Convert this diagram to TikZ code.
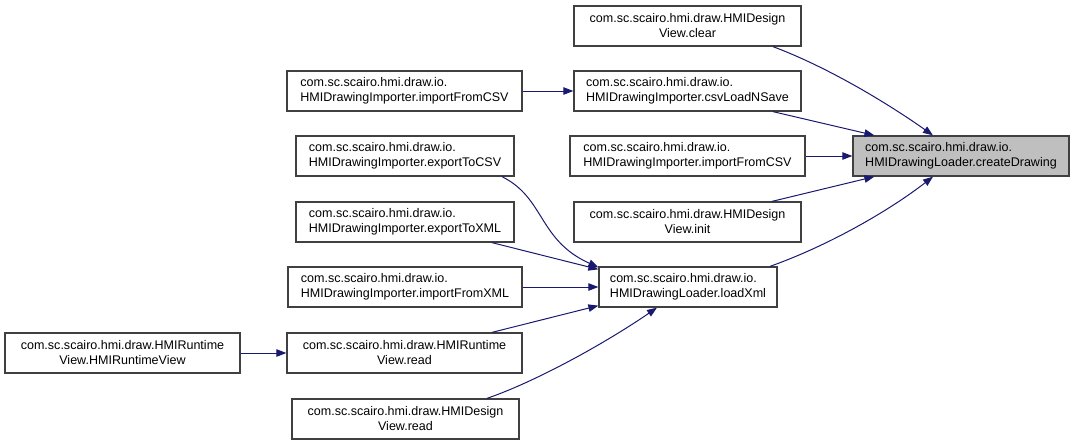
\documentclass[tikz,border=0pt]{standalone}
\usepackage{fontspec}
\setmainfont{Liberation Sans}
\usetikzlibrary{arrows.meta,calc}
\definecolor{edgeblue}{HTML}{191970}
\definecolor{boxline}{HTML}{404040}
\definecolor{selfill}{HTML}{BFBFBF}
\tikzset{
  fn/.style={draw=boxline, line width=0.95pt, fill=white, rectangle, inner sep=0pt,
    minimum height=30pt, font=\fontsize{9.4}{11.25}\selectfont, text=black},
  sel/.style={fn, fill=selfill},
  edge/.style={draw=edgeblue, line width=0.75pt, -{Triangle[length=7.5pt,width=5.6pt]}},
}
\begin{document}
\begin{tikzpicture}[x=0.75pt,y=-0.75pt]
\useasboundingbox (0,0) rectangle (1075,444);
% middle column
\node[fn, minimum width=170.25pt, align=center] (clear) at (687.5,26) {com.sc.scairo.hmi.draw.HMIDesign\\View.clear};
\node[fn, minimum width=170.25pt, align=left] (csv) at (687.5,91) {com.sc.scairo.hmi.draw.io.\\HMIDrawingImporter.csvLoadNSave};
\node[fn, minimum width=176.25pt, align=left] (impcsvm) at (687.5,156) {com.sc.scairo.hmi.draw.io.\\HMIDrawingImporter.importFromCSV};
\node[fn, minimum width=170.25pt, align=center] (init) at (687.5,222) {com.sc.scairo.hmi.draw.HMIDesign\\View.init};
\node[fn, minimum width=133.5pt, align=left] (loadxml) at (688,287) {com.sc.scairo.hmi.draw.io.\\HMIDrawingLoader.loadXml};
% selected
\node[sel, minimum width=162pt, align=left] (create) at (961,156) {com.sc.scairo.hmi.draw.io.\\HMIDrawingLoader.createDrawing};
% left column
\node[fn, minimum width=176.25pt, align=left] (impcsvl) at (404.5,91) {com.sc.scairo.hmi.draw.io.\\HMIDrawingImporter.importFromCSV};
\node[fn, minimum width=163.5pt, align=left] (expcsv) at (405,156) {com.sc.scairo.hmi.draw.io.\\HMIDrawingImporter.exportToCSV};
\node[fn, minimum width=163.5pt, align=left] (expxml) at (405,222) {com.sc.scairo.hmi.draw.io.\\HMIDrawingImporter.exportToXML};
\node[fn, minimum width=175.5pt, align=left] (impxml) at (405,287) {com.sc.scairo.hmi.draw.io.\\HMIDrawingImporter.importFromXML};
\node[fn, minimum width=176.25pt, align=center] (rtread) at (404.5,353) {com.sc.scairo.hmi.draw.HMIRuntime\\View.read};
\node[fn, minimum width=170.25pt, align=center] (dsread) at (405.5,419) {com.sc.scairo.hmi.draw.HMIDesign\\View.read};
\node[fn, minimum width=176.25pt, align=center] (rtview) at (122.5,353) {com.sc.scairo.hmi.draw.HMIRuntime\\View.HMIRuntimeView};
% edges into createDrawing
\draw[edge] ($(clear.south)+(85.5,0)$) .. controls (830,68) and (890,105) .. ($(create.north)+(-28,0)$);
\draw[edge] ($(csv.south)+(85.5,0)$) -- ($(create.north west)+(22,0)$);
\draw[edge] (impcsvm.east) -- (create.west);
\draw[edge] ($(init.north)+(84.5,0)$) -- ($(create.south west)+(22,0)$);
\draw[edge] ($(loadxml.north)+(82,0)$) .. controls (830,245) and (890,210) .. ($(create.south)+(-28,0)$);
% edges into csvLoadNSave
\draw[edge] (impcsvl.east) -- (csv.west);
% edges into loadXml
\draw[edge] ($(expcsv.south)+(97,0)$) .. controls (545,198) and (538,240) .. ($(loadxml.north west)+(0,1)$);
\draw[edge] ($(expxml.south)+(87,0)$) -- ($(loadxml.north west)+(0,3)$);
\draw[edge] (impxml.east) -- (loadxml.west);
\draw[edge] ($(rtread.north)+(87.5,0)$) -- ($(loadxml.south west)+(0,-2)$);
\draw[edge] ($(dsread.north)+(81.5,0)$) .. controls (540,380) and (610,340) .. ($(loadxml.south)+(-31,0)$);
% edge into HMIRuntimeView.read
\draw[edge] (rtview.east) -- (rtread.west);
\end{tikzpicture}
\end{document}
